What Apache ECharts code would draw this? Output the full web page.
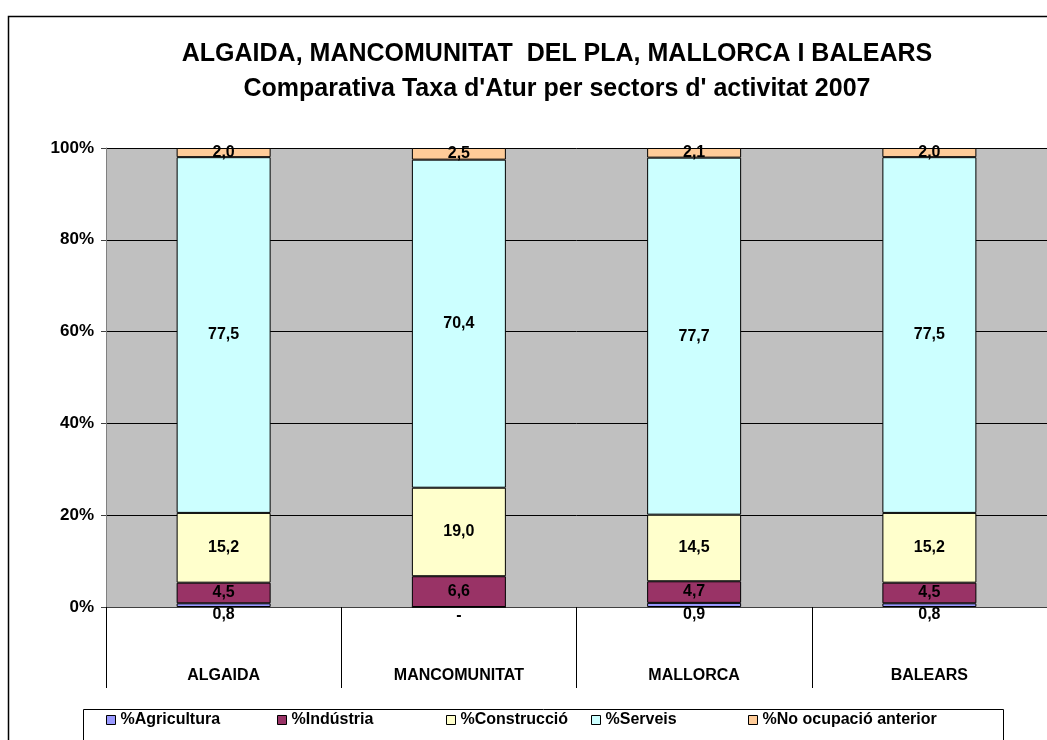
<!DOCTYPE html>
<html>
<head>
<meta charset="utf-8">
<script src="https://cdn.jsdelivr.net/npm/echarts@6/dist/echarts.min.js"></script>
<style>
  html, body { margin: 0; padding: 0; background: #fff; }
  #chart { width: 1047px; height: 740px; }
</style>
</head>
<body>
<div id="chart"></div>
<script>
// dades llegides del gràfic (valors en %)
const categories = ['ALGAIDA', 'MANCOMUNITAT', 'MALLORCA', 'BALEARS'];
const seriesNames = ['%Agricultura', '%Indústria', '%Construcció', '%Serveis', '%No ocupació anterior'];
const agricultura = [0.8, 0, 0.9, 0.8];
const industria = [4.5, 6.6, 4.7, 4.5];
const construccio = [15.2, 19.0, 14.5, 15.2];
const serveis = [77.5, 70.4, 77.7, 77.5];
const noOcupacio = [2.0, 2.5, 2.1, 2.0];
const yTicks = [0, 20, 40, 60, 80, 100];

const colors = ['#9999FF', '#993366', '#FFFFCC', '#CCFFFF', '#FFCC99'];
const legendLeft = [106, 277, 446, 591, 748];
const font = "'Liberation Sans', Arial, sans-serif";

const raw = [agricultura, industria, construccio, serveis, noOcupacio];
// columna 100% apilada: normalitzam cada categoria
const totals = categories.map((c, i) => raw.reduce((s, arr) => s + arr[i], 0));

function fmt(v) {
  if (!v) return '-';
  return v.toFixed(1).replace('.', ',');
}

const chart = echarts.init(document.getElementById('chart'));

const series = raw.map((arr, k) => ({
  name: seriesNames[k],
  type: 'bar',
  stack: 'total',
  barWidth: 94,
  data: arr.map((v, i) => ({ value: v / totals[i] * 100, raw: v })),
  itemStyle: { color: colors[k], borderColor: '#000', borderWidth: 1 },
  label: {
    show: true,
    position: k === 0 ? 'bottom' : 'inside',
    distance: 0,
    color: '#000',
    fontFamily: font,
    fontWeight: 'bold',
    fontSize: 16,
    formatter: p => fmt(p.data.raw)
  }
}));

const option = {
  animation: false,
  color: colors,
  title: [{
    text: 'ALGAIDA, MANCOMUNITAT  DEL PLA, MALLORCA I BALEARS',
    left: 552,
    top: 37,
    textAlign: 'center',
    textStyle: { fontFamily: font, fontWeight: 'bold', fontSize: 25, color: '#000' }
  }, {
    text: "Comparativa Taxa d'Atur per sectors d' activitat 2007",
    left: 552,
    top: 72,
    textAlign: 'center',
    textStyle: { fontFamily: font, fontWeight: 'bold', fontSize: 25, color: '#000' }
  }],
  legend: series.map((s, k) => ({
    data: [s.name],
    left: legendLeft[k],
    top: 712,
    padding: 0,
    itemWidth: 9,
    itemHeight: 9,
    itemGap: 0,
    icon: 'rect',
    selectedMode: false,
    itemStyle: { borderColor: '#000', borderWidth: 1 },
    textStyle: { fontFamily: font, fontWeight: 'bold', fontSize: 16, color: '#000', padding: [0, 0, 0, 0] }
  })),
  grid: {
    left: 106,
    right: 0,
    top: 148,
    bottom: 133,
    show: true,
    backgroundColor: '#C0C0C0',
    borderWidth: 0
  },
  xAxis: {
    type: 'category',
    data: categories,
    axisLine: { lineStyle: { color: '#404040', width: 1 } },
    axisTick: { show: true, length: 81, interval: 0, lineStyle: { color: '#000' } },
    axisLabel: {
      margin: 61,
      color: '#000',
      fontFamily: font,
      fontWeight: 'bold',
      fontSize: 16
    }
  },
  yAxis: {
    type: 'value',
    min: yTicks[0],
    max: yTicks[yTicks.length - 1],
    interval: 20,
    axisLine: { show: true, lineStyle: { color: '#808080' } },
    axisTick: { show: true, length: 5, lineStyle: { color: '#404040' } },
    splitLine: { show: true, lineStyle: { color: '#000', width: 1 } },
    axisLabel: {
      margin: 12,
      color: '#000',
      fontFamily: font,
      fontWeight: 'bold',
      fontSize: 17,
      formatter: '{value}%'
    }
  },
  graphic: [{
    type: 'rect',
    shape: { x: 8.5, y: 16.5, width: 1100, height: 800 },
    style: { fill: null, stroke: '#000', lineWidth: 1.5 },
    silent: true
  }, {
    type: 'rect',
    shape: { x: 83.5, y: 709.5, width: 920, height: 60 },
    style: { fill: null, stroke: '#000', lineWidth: 1 },
    silent: true
  }],
  series: series
};

chart.setOption(option);
</script>
</body>
</html>
